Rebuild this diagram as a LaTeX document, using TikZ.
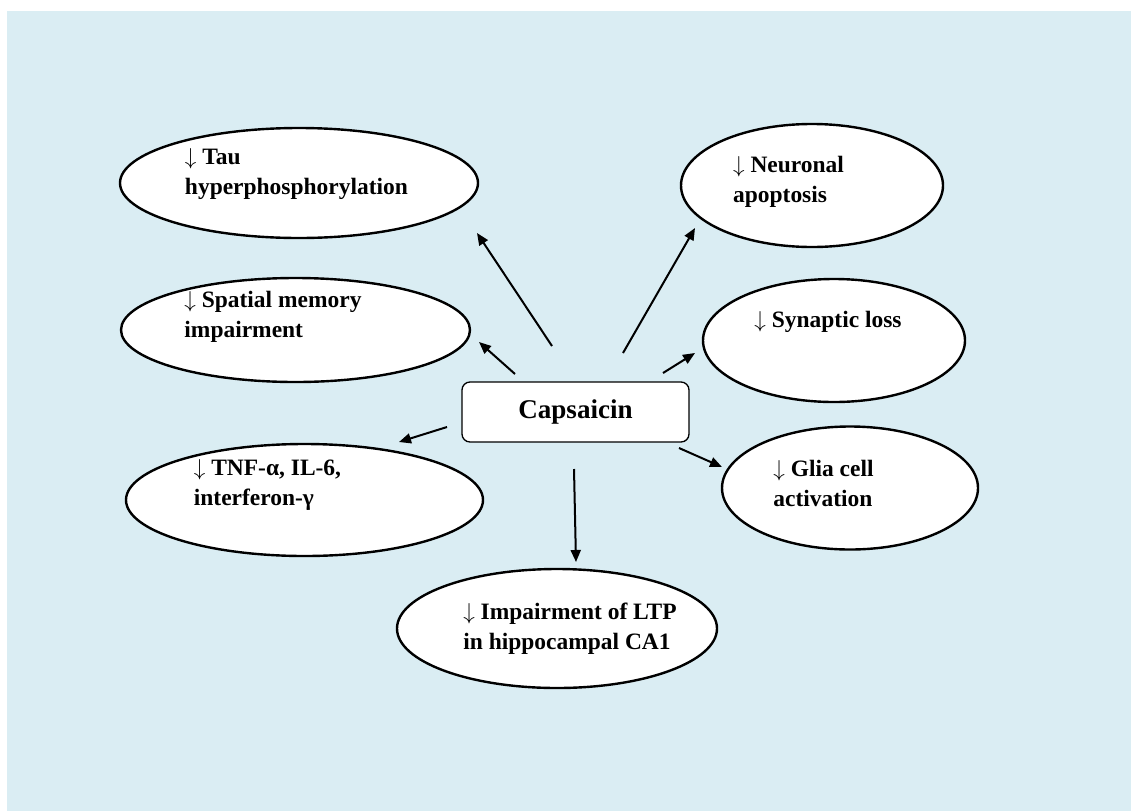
\documentclass[tikz,border=0pt]{standalone}
\usepackage{fontspec}
\setmainfont{Liberation Serif}
\usetikzlibrary{shapes.geometric,arrows.meta}
\definecolor{bgblue}{RGB}{218,237,243}
\newcommand{\dn}{$\downarrow$}
\tikzset{
	% effect ellipses round the central drug box
	effect node/.style={ellipse,draw,line width=1.8pt,fill=white,inner sep=0},
	drug node/.style={rectangle,rounded corners=6pt,draw,line width=1pt,fill=white,
	  font=\fontsize{20.3}{24}\selectfont\bfseries},
	effect text/.style={align=left,inner sep=0,font=\fontsize{17.6}{22.5}\selectfont\bfseries},
	effect arrow/.style={-{Triangle[length=9pt,width=7.5pt]},line width=1.5pt}
}
\begin{document}
\begin{tikzpicture}[x=0.75pt,y=-0.75pt]

  \useasboundingbox (0,0) rectangle (1131,811);
  \fill[white] (0,0) rectangle (1131,811);
  \fill[bgblue] (7,11) rectangle (1131,811);

  \node(caps) at (575.5, 412) [drug node, minimum width=170.25pt, minimum height=45pt]{Capsaicin};

  \node(tau) at (299, 183) [effect node, minimum width=268.5pt, minimum height=82.5pt,
    label={[effect text, xshift=-1.9pt, yshift=6.4pt]center:{\dn{} Tau\\hyperphosphorylation}}]{};
  \node(spat) at (295.5, 330) [effect node, minimum width=261.75pt, minimum height=78pt,
    label={[effect text, xshift=-16.9pt, yshift=9.75pt]center:{\dn{} Spatial memory\\impairment}}]{};
  \node(tnf) at (304.5, 500) [effect node, minimum width=267.75pt, minimum height=84pt,
    label={[effect text, xshift=-27.75pt, yshift=11.6pt]center:{\dn{} TNF-α, IL-6,\\interferon-γ}}]{};
  \node(ltp) at (557, 628.5) [effect node, minimum width=240pt, minimum height=89.25pt,
    label={[effect text, xshift=9.75pt]center:{\dn{} Impairment of LTP\\in hippocampal CA1}}]{};
  \node(apop) at (812, 185.5) [effect node, minimum width=196.5pt, minimum height=92.25pt,
    label={[effect text, xshift=-17.6pt, yshift=2.6pt]center:{\dn{} Neuronal\\apoptosis}}]{};
  \node(syn) at (834, 340.5) [effect node, minimum width=196.5pt, minimum height=92.25pt,
    label={[effect text, xshift=-4.5pt, yshift=13.9pt]center:{\dn{} Synaptic loss}}]{};
  \node(glia) at (850, 488) [effect node, minimum width=192pt, minimum height=92.25pt,
    label={[effect text, xshift=-19.9pt, yshift=3.75pt]center:{\dn{} Glia cell\\activation}}]{};

  %% arrows start and end short of the shapes
  \coordinate(tau s) at (552, 346);  \coordinate(tau e) at (477, 233);
  \coordinate(spat s) at (515, 374); \coordinate(spat e) at (479, 342);
  \coordinate(tnf s) at (447, 427);  \coordinate(tnf e) at (399, 442);
  \coordinate(ltp s) at (574, 469);  \coordinate(ltp e) at (576, 562);
  \coordinate(apop s) at (623, 353); \coordinate(apop e) at (695, 228);
  \coordinate(syn s) at (663, 373);  \coordinate(syn e) at (695, 353);
  \coordinate(glia s) at (679, 448); \coordinate(glia e) at (722, 467);

  \path[effect arrow] (tau s) edge (tau e);
  \path[effect arrow] (spat s) edge (spat e);
  \path[effect arrow] (tnf s) edge (tnf e);
  \path[effect arrow] (ltp s) edge (ltp e);
  \path[effect arrow] (apop s) edge (apop e);
  \path[effect arrow] (syn s) edge (syn e);
  \path[effect arrow] (glia s) edge (glia e);

\end{tikzpicture}
\end{document}
